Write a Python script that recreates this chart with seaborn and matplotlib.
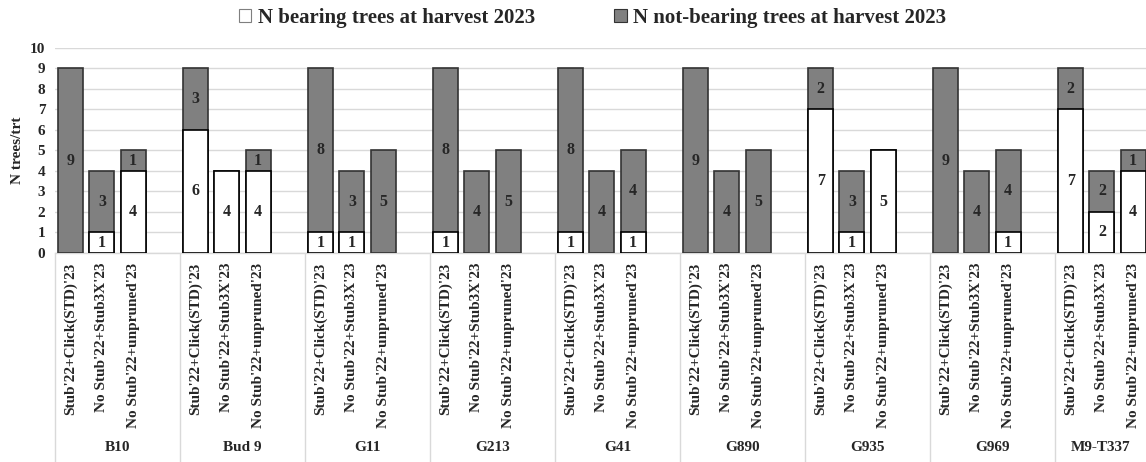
import numpy as np
import pandas as pd
import seaborn as sns
import matplotlib
matplotlib.use("Agg")
import matplotlib.pyplot as plt
from matplotlib.patches import Patch

# Rootstocks (outer category level) and pruning treatments (inner level)
rootstocks = ["B10", "Bud 9", "G11", "G213", "G41", "G890", "G935", "G969", "M9-T337"]
treatments = ["Stub'22+Click(STD)'23", "No Stub'22+Stub3X'23", "No Stub'22+unpruned'23"]

# Number of trees per treatment, listed rootstock by rootstock
bearing = [0, 1, 4,   6, 4, 4,   1, 1, 0,   1, 0, 0,   1, 0, 1,
           0, 0, 0,   7, 1, 5,   0, 0, 1,   7, 2, 4]
not_bearing = [9, 3, 1,   3, 0, 1,   8, 3, 5,   8, 4, 5,   8, 4, 4,
               9, 4, 5,   2, 3, 0,   9, 4, 4,   2, 2, 1]

legend_labels = ["N bearing trees at harvest 2023", "N not-bearing trees at harvest 2023"]
y_label = "N trees/trt"

GRAY = "#808080"
GRAY_EDGE = "#333333"
GRID = "#d9d9d9"

sns.set_style("white")
plt.rcParams["font.family"] = ["Liberation Serif", "DejaVu Serif"]
plt.rcParams["font.weight"] = "bold"

# each rootstock takes four slots: three treatments and one empty spacer
n_slots = len(rootstocks) * 4
rows = []
for g, rs in enumerate(rootstocks):
    for t, tr in enumerate(treatments):
        i = g * 3 + t
        rows.append({"slot": g * 4 + t, "rootstock": rs, "treatment": tr,
                     "bearing": bearing[i], "not_bearing": not_bearing[i],
                     "total": bearing[i] + not_bearing[i]})
df = pd.DataFrame(rows)
slot_order = list(range(n_slots))

fig = plt.figure(figsize=(11.46, 4.62), dpi=100)
ax = fig.add_axes([0.048, 0.4524, 0.9817, 0.4444])

# full column (not-bearing colour), then the bearing part laid over its base
sns.barplot(data=df, x="slot", y="total", order=slot_order, color=GRAY,
            saturation=1, width=0.8, edgecolor=GRAY_EDGE, linewidth=1.2,
            errorbar=None, ax=ax, zorder=3)
sns.barplot(data=df[df["bearing"] > 0], x="slot", y="bearing", order=slot_order,
            color="white", saturation=1, width=0.8, edgecolor="black",
            linewidth=1.2, errorbar=None, ax=ax, zorder=4)

# value labels in the middle of every non-empty segment
for _, r in df.iterrows():
    if r["bearing"] > 0:
        ax.text(r["slot"], r["bearing"] / 2, f"{r['bearing']}", ha="center",
                va="center", fontsize=11.5, fontweight="bold", zorder=5)
    if r["not_bearing"] > 0:
        ax.text(r["slot"], r["bearing"] + r["not_bearing"] / 2, f"{r['not_bearing']}",
                ha="center", va="center", fontsize=11.5, fontweight="bold", zorder=5)

ax.set_xlim(-0.5, n_slots - 0.5)
ax.set_ylim(0, 10)
ax.set_yticks(range(0, 11))
ax.yaxis.grid(True, color=GRID, linewidth=1.0, zorder=0)
ax.xaxis.grid(False)
ax.set_axisbelow(True)
for side in ["left", "right", "top"]:
    ax.spines[side].set_visible(False)
ax.spines["bottom"].set_color(GRID)
ax.spines["bottom"].set_linewidth(1.0)

ax.set_xticks(df["slot"])
ax.set_xticklabels(df["treatment"], rotation=90, va="top", ha="center",
                   fontsize=11, fontweight="bold")
ax.tick_params(axis="x", length=0, pad=7)
ax.tick_params(axis="y", length=0, pad=7, labelsize=11)
for lbl in ax.get_yticklabels():
    lbl.set_fontweight("bold")
ax.set_xlabel("")
ax.set_ylabel(y_label, fontsize=11, fontweight="bold", labelpad=4)

# outer category level: separators and rootstock names
xform = ax.get_xaxis_transform()
ax.vlines([g * 4 - 0.5 for g in range(len(rootstocks) + 1)], -1.05, 0,
          transform=xform, colors=GRID, linewidth=1.0, clip_on=False)

fig.canvas.draw()
right_edge = ax.transData.inverted().transform(
    fig.transFigure.transform((1.0, 0.0)))[0]
label_tf = matplotlib.transforms.blended_transform_factory(ax.transData, fig.transFigure)
for g, rs in enumerate(rootstocks):
    lo, hi = g * 4 - 0.5, g * 4 + 3.5
    hi = min(hi, right_edge)
    ax.text((lo + hi) / 2, 0.032, rs, transform=label_tf, ha="center",
            va="center", fontsize=11, fontweight="bold", clip_on=False)

handles = [Patch(facecolor="white", edgecolor="#7f7f7f", linewidth=0.8),
           Patch(facecolor=GRAY, edgecolor=GRAY_EDGE, linewidth=0.8)]
fig.legend(handles, legend_labels, loc="center", bbox_to_anchor=(0.517, 0.962),
           ncol=2, frameon=False, prop={"size": 15, "weight": "bold"},
           handlelength=0.6, handleheight=0.6, handletextpad=0.3,
           columnspacing=3.8)

fig.savefig("out.png", dpi=100)
